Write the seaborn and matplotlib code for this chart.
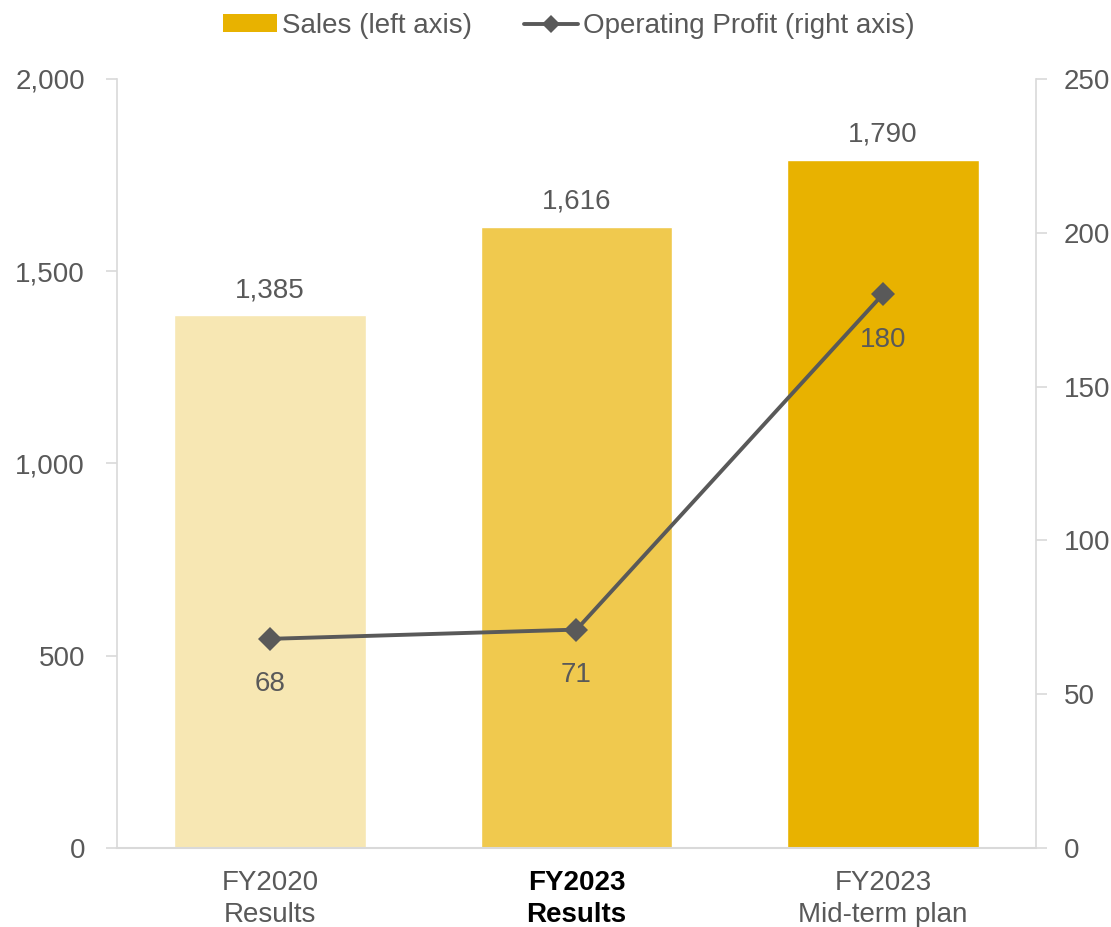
import pandas as pd
import matplotlib.pyplot as plt
import seaborn as sns
from matplotlib.patches import Patch
from matplotlib.lines import Line2D

# data
categories = ['FY2020\nResults', 'FY2023\nResults', 'FY2023\nMid-term plan']
sales = [1385, 1616, 1790]
profit = [68, 71, 180]
bar_colors = ['#F7E7B3', '#F0C94E', '#E8B200']

TXT = '#595959'
GRID = '#D9D9D9'


def main():
    df = pd.DataFrame({'cat': categories, 'sales': sales, 'profit': profit})

    sns.set_theme(style='white')
    plt.rcParams['font.family'] = ['Liberation Sans', 'DejaVu Sans']

    fig = plt.figure(figsize=(11.11, 9.27), dpi=100)
    ax = fig.add_axes([0.1053, 0.0852, 0.8272, 0.8296])

    sns.barplot(data=df, x='cat', y='sales', hue='cat', palette=bar_colors,
                width=0.626, legend=False, ax=ax, saturation=1)
    ax.set_xlim(-0.5, 2.5)
    ax.set_ylim(0, 2000)
    ax.set_yticks([0, 500, 1000, 1500, 2000])
    ax.set_yticklabels([f'{v:,}' for v in [0, 500, 1000, 1500, 2000]])
    ax.set_xlabel('')
    ax.set_ylabel('')

    for i, v in enumerate(sales):
        ax.text(i, v + 32, f'{v:,}', ha='center', va='bottom', fontsize=20, color=TXT)

    ax2 = ax.twinx()
    sns.lineplot(x=list(range(len(profit))), y=profit, ax=ax2, color=TXT,
                 linewidth=2.8, marker='D', markersize=12, markeredgewidth=0)
    ax2.set_ylim(0, 250)
    ax2.set_yticks([0, 50, 100, 150, 200, 250])
    for i, v in enumerate(profit):
        ax2.text(i, v - 10.5, f'{v}', ha='center', va='top', fontsize=20, color=TXT)

    for a in (ax, ax2):
        for s in a.spines.values():
            s.set_visible(False)
        a.tick_params(axis='y', labelsize=20, colors=TXT, length=8, width=1.2,
                      color=GRID, direction='out')
    ax.tick_params(axis='y', pad=15)
    ax2.tick_params(axis='y', pad=12)
    ax.spines['left'].set_visible(True)
    ax.spines['left'].set_color(GRID)
    ax.spines['left'].set_linewidth(1.2)
    ax.spines['bottom'].set_visible(True)
    ax.spines['bottom'].set_color(GRID)
    ax.spines['bottom'].set_linewidth(1.5)
    ax2.spines['right'].set_visible(True)
    ax2.spines['right'].set_color(GRID)
    ax2.spines['right'].set_linewidth(1.2)
    ax.tick_params(axis='x', length=0, labelsize=20, colors=TXT, pad=16)
    ax.tick_params(axis='y', left=True)
    ax2.tick_params(axis='y', right=True)

    for i, lbl in enumerate(ax.get_xticklabels()):
        lbl.set_linespacing(1.3)
        if i == 1:
            lbl.set_fontweight('bold')
            lbl.set_color('black')

    handles = [Patch(facecolor='#E8B200', edgecolor='none'),
               Line2D([0], [0], color=TXT, linewidth=2.8, marker='D', markersize=9,
                      markeredgewidth=0)]
    fig.legend(handles, ['Sales (left axis)', 'Operating Profit (right axis)'],
               loc='center', bbox_to_anchor=(0.512, 0.972), ncol=2, frameon=False,
               fontsize=20, labelcolor=TXT, handlelength=1.95, handleheight=0.6,
               handletextpad=0.18, columnspacing=1.85)

    fig.savefig('out.png', dpi=100)


if __name__ == '__main__':
    main()
